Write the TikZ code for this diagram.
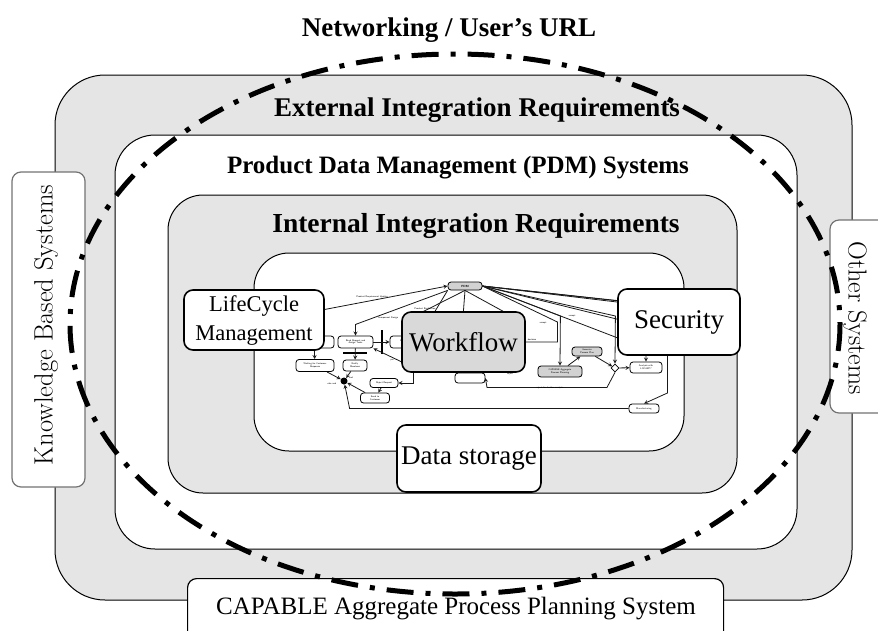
\documentclass[tikz,border=0pt]{standalone}
\usepackage{fontspec}
\newfontfamily\timesfont{Liberation Serif}
\usetikzlibrary{positioning,arrows,shapes.geometric}

\begin{document}
\begin{tikzpicture}[x=1pt,y=-1pt,>=stealth,
        zone/.style={draw=black, line width=1pt, rounded corners=#1},
        zonetitle/.style={anchor=base, inner sep=0pt, font=\timesfont\bfseries\fontsize{27}{30}\selectfont},
        mainbox/.style={draw=black, line width=1.6pt, rounded corners=9pt, fill=white, inner sep=0pt, align=center, font=\timesfont\fontsize{27}{29}\selectfont},
        sidebox/.style={draw=black!55, line width=1.2pt, rounded corners=9pt, fill=white, inner sep=0pt},
        mini/.style={draw=black, line width=0.8pt, rounded corners=3pt, fill=white, inner sep=0.3pt, align=center, font=\sffamily\fontsize{2.4}{2.8}\selectfont},
        hidden/.style={inner sep=0pt},
        tag/.style={inner sep=0pt, font=\sffamily\fontsize{2.4}{2.8}\selectfont},
        link/.style={->, draw=black!90, line width=0.8pt},
        bar/.style={fill=black, inner sep=0pt},
    ]
    \useasboundingbox (0,0) rectangle (878,630);

    % nested zones
    \node[zone=50pt, fill=gray!20, minimum width=797pt, minimum height=525pt] (external) at (453.5,337.5) {};
    \node[zone=40pt, fill=white,   minimum width=682pt, minimum height=414pt] (pdmzone)  at (456,342) {};
    \node[zone=35pt, fill=gray!20, minimum width=569pt, minimum height=298pt] (internal) at (452.5,344) {};
    \node[zone=35pt, fill=white,   minimum width=430pt, minimum height=198pt] (core)     at (469,352) {};

    % side systems
    \node[sidebox, minimum width=73pt, minimum height=315pt] (kbsbox) at (48.5,329.5) {};
    \node[rotate=90, font=\fontsize{26.5}{28}\selectfont] (kbs) at (46,325) {Knowledge Based Systems};
    \node[sidebox, minimum width=62pt, minimum height=193pt] (otherbox) at (861,316.5) {};
    \node[rotate=-90, font=\fontsize{26}{27}\selectfont] (other) at (855,318) {Other Systems};
    \node[sidebox, draw=black, minimum width=536pt, minimum height=62pt, anchor=north west] (capbox) at (187,578) {};
    \node[anchor=base, inner sep=0pt, font=\timesfont\fontsize{25}{28}\selectfont] (capable) at (456,614) {CAPABLE Aggregate Process Planning System};

    % titles
    \node[zonetitle] (net)      at (449,36)  {Networking / User’s URL};
    \node[zonetitle] (exttitle) at (477,116) {External Integration Requirements};
    \node[zonetitle, font=\timesfont\bfseries\fontsize{25}{28}\selectfont] (pdmtitle) at (458,173) {Product Data Management (PDM) Systems};
    \node[zonetitle, font=\timesfont\bfseries\fontsize{27.5}{30}\selectfont] (inttitle) at (476,232) {Internal Integration Requirements};

    % workflow sketch
    \node[hidden, minimum width=60pt, minimum height=40pt] (startnode) at (280,318) {};
    \node[hidden, minimum width=100pt, minimum height=50pt] (plannode) at (463,342) {};
    \node[hidden, minimum width=100pt, minimum height=40pt] (secnode) at (679,322) {};
    \node[mini, fill=gray!35, minimum width=34pt, minimum height=8pt, font=\sffamily\bfseries\fontsize{3}{3.5}\selectfont] (pdmbox) at (465,286) {PDM};
    \node[mini, minimum width=40pt, minimum height=12pt] (reqnode) at (314,342) {};
    \node[mini, minimum width=35pt, minimum height=12pt] (readnode) at (355.5,342) {Read Request and\\Assign Tasks};
    \node[mini, minimum width=30pt, minimum height=12pt] (evalnode) at (405,342) {Evaluate\\Design};
    \node[mini, minimum width=38pt, minimum height=12pt] (waitnode) at (315,365.5) {Waiting for Customer\\Response};
    \node[mini, minimum width=24pt, minimum height=11pt] (notifynode) at (355,365.5) {Notify\\Members};
    \node[circle, fill=black, inner sep=0pt, minimum size=7pt] (joinnode) at (344,381) {};
    \node[mini, minimum width=28pt, minimum height=9pt] (rejectnode) at (384,383) {Reject Request};
    \node[mini, minimum width=29pt, minimum height=10pt] (sendnode) at (375,398) {Send to\\Customer};
    \node[mini, minimum width=30pt, minimum height=10pt] (checknode) at (470,378) {};
    \node[mini, fill=gray!35, minimum width=44pt, minimum height=11pt] (capnode) at (560,371.5) {CAPABLE Aggregate\\Process Planning};
    \node[mini, fill=gray!35, minimum width=30pt, minimum height=9pt] (gennode) at (587,351.5) {Generate\\Process Plan};
    \node[diamond, draw=black, line width=0.8pt, fill=white, inner sep=0pt, minimum size=8pt] (decnode) at (615,368) {};
    \node[mini, minimum width=32pt, minimum height=11pt] (analysisnode) at (646,367.5) {Analysis with\\LOCAM??};
    \node[mini, minimum width=30pt, minimum height=9pt] (manufnode) at (644,408.5) {Manufacturing};
    \node[bar, minimum width=2pt, minimum height=24pt] (forkbar) at (382,342) {};
    \node[bar, minimum width=24pt, minimum height=2pt] (splitbar) at (355,353) {};

    \draw[link] (startnode) -- (pdmbox.west);
    \draw[link] (pdmbox.south west) -- ++(-92,34) -- (readnode.north);
    \foreach \spot in {north west,north,north east}
        \draw[link] (pdmbox.south) -- (plannode.\spot);
    \draw[link] (pdmbox.south west) -- (evalnode.north east);
    \foreach \spot in {north west,west,south west}
        \draw[link] (pdmbox.east) -- (secnode.\spot);
    \draw[link] (pdmbox.east) -- ++(75,36) |- (plannode.east);
    \draw[link] (pdmbox.east) -- ++(78,30) -- (capnode.north);
    \draw[link] (pdmbox.east) -- ++(133,30) -- (decnode.north);
    \draw[link] (pdmbox.east) -- ++(164,18) -- (analysisnode.north);
    \draw[link] (pdmbox.east) -- ++(185,22) -- ++(0,85) -- (manufnode.north);
    \draw[link] (reqnode) -- (waitnode);
    \draw[link] (readnode) -- (evalnode);
    \draw[link] (readnode) -- (notifynode);
    \draw[link] (waitnode) -- (joinnode);
    \draw[link] (notifynode) -- (joinnode);
    \draw[link] (sendnode) -- (joinnode);
    \draw[link] (rejectnode) -- (sendnode);
    \draw[link] ([xshift=8pt]evalnode.south) |- (rejectnode.east);
    \draw[link] (plannode.south west) -- (readnode.south east);
    \draw[link] (capnode) -- (gennode);
    \draw[link] (gennode) -- (decnode);
    \draw[link] (decnode) -- (analysisnode);
    \draw[link] (decnode.south) -- ++(-8,15) -- ++(-120,0) -- (checknode.east);
    \draw[link] (manufnode.west) -- ++(-279,0) -- (joinnode);

    \node[tag] (t1) at (372,297) {Product Requirement Update};
    \node[tag] (t2) at (388,318) {Component Design};
    \node[tag] (t3) at (425,309) {Product Realization};
    \node[tag] (t4) at (543,323) {accept};
    \node[tag] (t5) at (572,316) {accept};
    \node[tag] (t6) at (532,340) {decision};
    \node[tag] (t7) at (392,360) {yes};
    \node[tag] (t8) at (351,378) {and};
    \node[tag] (t9) at (332,384) {else and};
    \node[tag] (t10) at (510,374) {reject};
    \node[tag] (t11) at (550,388) {reject for further analysis};

    % component boxes
    \node[mainbox, minimum width=140pt, minimum height=60pt, font=\timesfont\fontsize{22.5}{29}\selectfont] (lifecycle) at (254,320) {LifeCycle\\Management};
    \node[mainbox, fill=gray!30, minimum width=123pt, minimum height=60pt] (workflow) at (463.5,342) {Workflow};
    \node[mainbox, minimum width=122pt, minimum height=66pt] (security) at (679,322) {Security};
    \node[mainbox, minimum width=144pt, minimum height=67pt] (storage) at (469,458.5) {Data storage};

    % networking boundary
    \draw[line width=5pt, dash pattern=on 27pt off 12pt on 5pt off 12pt] (455,324) ellipse [x radius=385, y radius=270];
\end{tikzpicture}
\end{document}
